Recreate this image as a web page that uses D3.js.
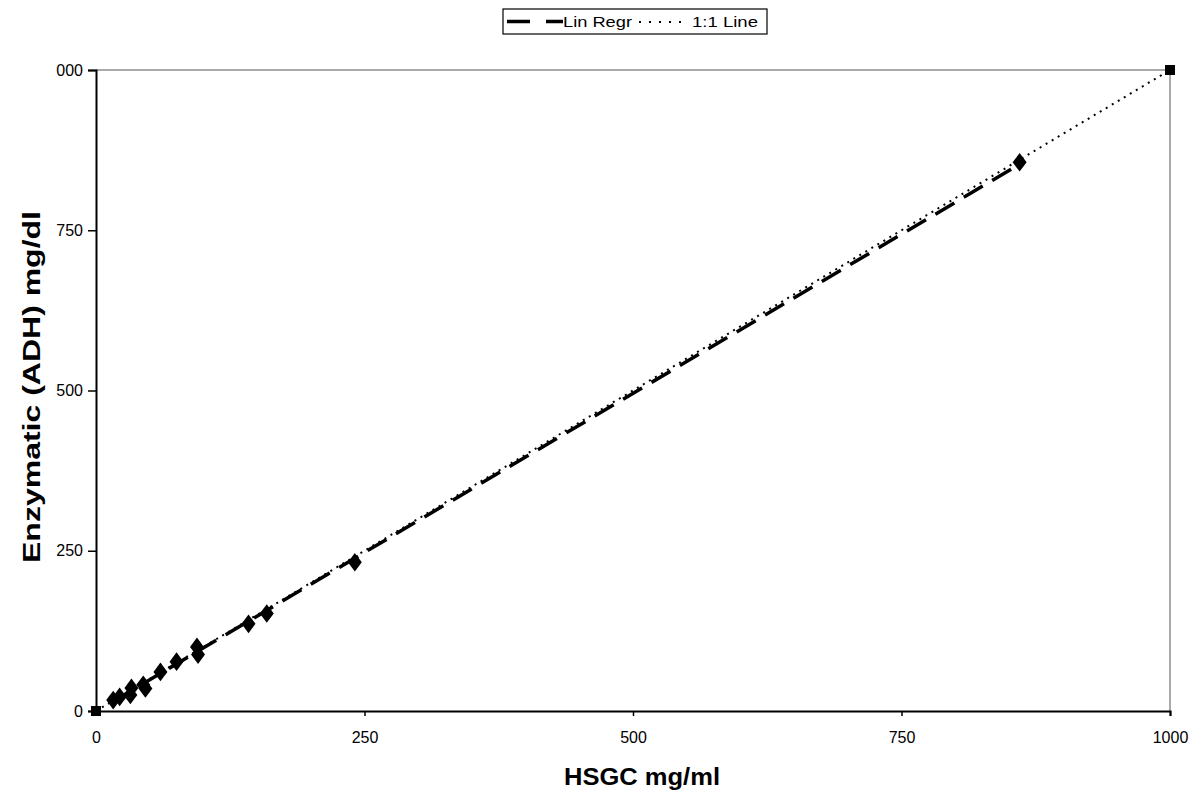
<!DOCTYPE html>
<html>
<head>
<meta charset="utf-8">
<script src="https://cdn.jsdelivr.net/npm/d3@7"></script>
<style>
  body { margin: 0; background: #fff; }
  svg text { font-family: "Liberation Sans", Arial, sans-serif; }
</style>
</head>
<body>
<div id="chart"></div>
<script>
// Data
const hsgc      = [16, 22, 32, 33, 44, 46, 60, 75, 94, 95, 142, 159, 241, 860];
const enzymatic = [17, 22, 25, 36, 41, 35, 61, 77, 100, 88, 136, 152, 232, 856];
const regrX = [15, 860];
const regrY = [14, 853];
const unityX = [0, 1000];
const unityY = [0, 1000];
const tickValues = [0, 250, 500, 750, 1000];
const xTickLabels = ['0', '250', '500', '750', '1000'];
const yTickLabels = ['0', '250', '500', '750', '000'];

const width = 1195, height = 812;
const margin = { left: 96, right: 25, top: 70, bottom: 101 };

const svg = d3.select('#chart').append('svg')
    .attr('width', width)
    .attr('height', height);

const x = d3.scaleLinear().domain([0, 1000]).range([margin.left, width - margin.right]);
const y = d3.scaleLinear().domain([0, 1000]).range([height - margin.bottom, margin.top]);

// Plot frame (top + right)
svg.append('path')
    .attr('d', `M${x(0)},${y(1000)}H${x(1000)}V${y(0)}`)
    .attr('fill', 'none')
    .attr('stroke', '#555')
    .attr('stroke-width', 1);

// Axes
const xAxis = d3.axisBottom(x).tickValues(tickValues).tickSize(5).tickPadding(16)
    .tickFormat((d, i) => xTickLabels[i]);
const yAxis = d3.axisLeft(y).tickValues(tickValues).tickSize(8).tickPadding(5)
    .tickFormat((d, i) => yTickLabels[i]);

const gx = svg.append('g').attr('transform', `translate(0,${y(0)})`).call(xAxis);
const gy = svg.append('g').attr('transform', `translate(${x(0)},0)`).call(yAxis);
[gx, gy].forEach(g => {
    g.attr('font-family', null).attr('font-size', null);
    g.select('.domain').attr('stroke', '#000').attr('stroke-width', 2);
    g.selectAll('.tick line').attr('stroke', '#000').attr('stroke-width', 1.5);
    g.selectAll('.tick text').attr('fill', '#000').style('font-size', '16px');
});

// 1:1 line (dotted)
const line = d3.line().x(d => x(d[0])).y(d => y(d[1]));
svg.append('path')
    .datum(unityX.map((v, i) => [v, unityY[i]]))
    .attr('d', line)
    .attr('fill', 'none')
    .attr('stroke', '#000')
    .attr('stroke-width', 2)
    .attr('stroke-dasharray', '2,5');

// Linear regression (long dash)
svg.append('path')
    .datum(regrX.map((v, i) => [v, regrY[i]]))
    .attr('d', line)
    .attr('fill', 'none')
    .attr('stroke', '#000')
    .attr('stroke-width', 3.5)
    .attr('stroke-dasharray', '22,11');

// Data points (diamonds)
const diamond = d3.symbol().type(d3.symbolDiamond).size(100);
svg.append('g').selectAll('path')
    .data(hsgc.map((v, i) => [v, enzymatic[i]]))
    .join('path')
    .attr('d', diamond)
    .attr('transform', d => `translate(${x(d[0])},${y(d[1])}) scale(1.3,1)`)
    .attr('fill', '#000');

// 1:1 endpoints (squares)
svg.append('g').selectAll('rect')
    .data(unityX.map((v, i) => [v, unityY[i]]))
    .join('rect')
    .attr('x', d => x(d[0]) - 5)
    .attr('y', d => y(d[1]) - 5)
    .attr('width', 10)
    .attr('height', 10)
    .attr('fill', '#000');

// Axis titles
svg.append('text')
    .attr('x', 642)
    .attr('y', 785)
    .attr('text-anchor', 'middle')
    .attr('textLength', 156)
    .attr('lengthAdjust', 'spacingAndGlyphs')
    .style('font-size', '23px')
    .style('font-weight', 'bold')
    .text('HSGC mg/ml');

svg.append('text')
    .attr('transform', `translate(40,387) rotate(-90)`)
    .attr('text-anchor', 'middle')
    .attr('textLength', 352)
    .attr('lengthAdjust', 'spacingAndGlyphs')
    .style('font-size', '23px')
    .style('font-weight', 'bold')
    .text('Enzymatic (ADH) mg/dl');

// Legend
const lg = svg.append('g').attr('transform', 'translate(503,9)');
lg.append('rect')
    .attr('width', 264).attr('height', 25)
    .attr('fill', '#fff').attr('stroke', '#000').attr('stroke-width', 1.2);
lg.append('line')
    .attr('x1', 4).attr('x2', 60).attr('y1', 12.5).attr('y2', 12.5)
    .attr('stroke', '#000').attr('stroke-width', 3.5)
    .attr('stroke-dasharray', '23,16');
lg.append('text')
    .attr('x', 60).attr('y', 18)
    .attr('textLength', 69)
    .attr('lengthAdjust', 'spacingAndGlyphs')
    .style('font-size', '15px')
    .text('Lin Regr');
lg.append('line')
    .attr('x1', 136).attr('x2', 180).attr('y1', 13).attr('y2', 13)
    .attr('stroke', '#000').attr('stroke-width', 2)
    .attr('stroke-dasharray', '2,8');
lg.append('text')
    .attr('x', 189).attr('y', 18)
    .attr('textLength', 66)
    .attr('lengthAdjust', 'spacingAndGlyphs')
    .style('font-size', '15px')
    .text('1:1 Line');
</script>
</body>
</html>
